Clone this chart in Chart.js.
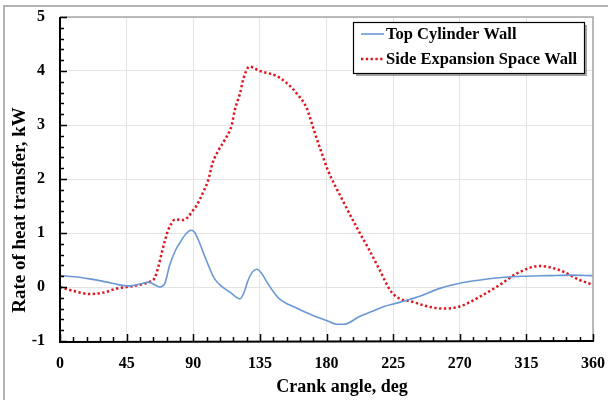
<!DOCTYPE html>
<html>
<head>
<meta charset="utf-8">
<script src="https://cdn.jsdelivr.net/npm/chart.js@4.4.1/dist/chart.umd.min.js"></script>
<style>
  html, body { margin: 0; padding: 0; background: #ffffff; }
  #wrap { width: 608px; height: 400px; position: relative; }
</style>
</head>
<body>
<div id="wrap"><canvas id="c" width="608" height="400"></canvas></div>
<script>
// ---- Data ----
const seriesNames = ["Top Cylinder Wall", "Side Expansion Space Wall"];

const topAngle = [0, 10, 20, 30, 40, 45, 50, 55, 60, 64, 67.5, 71, 74, 78, 81, 85, 88.5, 91, 94.5, 98, 101, 104, 108, 115, 121.5, 124, 127, 130, 133, 136, 140, 145, 149, 155, 162, 173, 180, 187, 192, 202, 210, 218, 230, 243, 256, 270, 284, 300, 315, 330, 345, 360];
const topValue = [0.21, 0.19, 0.15, 0.10, 0.04, 0.02, 0.03, 0.06, 0.09, 0.04, 0.0, 0.08, 0.40, 0.68, 0.82, 0.98, 1.05, 1.01, 0.80, 0.55, 0.35, 0.17, 0.04, -0.10, -0.22, -0.12, 0.12, 0.28, 0.33, 0.26, 0.08, -0.12, -0.24, -0.33, -0.42, -0.55, -0.62, -0.69, -0.69, -0.55, -0.46, -0.37, -0.28, -0.17, -0.03, 0.07, 0.13, 0.18, 0.20, 0.21, 0.22, 0.21];

const sideAngle = [0, 10, 20, 30, 38, 45, 52, 58, 61, 64, 66.4, 68.6, 71, 73, 75.4, 77.6, 83.3, 86.6, 89, 92.3, 96.8, 100, 103, 107, 111, 116, 118, 121.5, 124, 128, 135, 146, 153, 160, 166.5, 171, 175.5, 181, 191, 200.5, 209, 216, 223, 229.6, 236, 250, 258.6, 270, 283.6, 297, 308.6, 324, 337.6, 351, 360];
const sideValue = [0.0, -0.08, -0.13, -0.10, -0.03, 0.0, 0.03, 0.07, 0.10, 0.17, 0.37, 0.62, 0.87, 1.05, 1.18, 1.25, 1.24, 1.30, 1.39, 1.51, 1.76, 1.97, 2.29, 2.53, 2.71, 3.0, 3.27, 3.58, 3.87, 4.08, 4.0, 3.91, 3.78, 3.58, 3.32, 2.95, 2.58, 2.16, 1.6, 1.1, 0.68, 0.31, -0.06, -0.22, -0.26, -0.37, -0.40, -0.36, -0.18, 0.04, 0.25, 0.39, 0.31, 0.13, 0.04];

const xTicks = [0, 45, 90, 135, 180, 225, 270, 315, 360];
const yTicks = [-1, 0, 1, 2, 3, 4, 5];

const xTitle = "Crank angle, deg";
const yTitle = "Rate of heat transfer, kW";

const toPoints = (xs, ys) => xs.map((x, i) => ({ x: x, y: ys[i] }));

const blue = "#6a98d4";
const red = "#e0141c";
const serif = "'Liberation Serif', 'Times New Roman', serif";

// Frame, plot border, inward ticks, axis titles, legend
const decor = {
  id: "decor",
  beforeDraw(chart) {
    const ctx = chart.ctx;
    ctx.save();
    ctx.fillStyle = "#ffffff";
    ctx.fillRect(0, 0, chart.width, chart.height);
    ctx.strokeStyle = "#b4b4b4";
    ctx.lineWidth = 2;
    ctx.strokeRect(4, 6, 700, 500);
    ctx.restore();
  },
  afterDatasetsDraw(chart) {
    const ctx = chart.ctx;
    const a = chart.chartArea;
    const xs = chart.scales.x, ys = chart.scales.y;
    ctx.save();
    // top and right plot border
    ctx.strokeStyle = "#a6a6a6";
    ctx.lineWidth = 1.5;
    ctx.beginPath();
    ctx.moveTo(a.left, a.top); ctx.lineTo(a.right, a.top); ctx.lineTo(a.right, a.bottom);
    ctx.stroke();
    // axes
    ctx.strokeStyle = "#000000";
    ctx.lineWidth = 2;
    ctx.beginPath();
    ctx.moveTo(a.left, a.top); ctx.lineTo(a.left, a.bottom + 1); ctx.lineTo(a.right + 1, a.bottom);
    ctx.stroke();
    // inward ticks
    ctx.lineWidth = 1.5;
    ctx.beginPath();
    for (let v = 0; v <= 360; v += 9) {
      const px = Math.round(xs.getPixelForValue(v)) + 0.5;
      const len = (v % 45 === 0) ? 7 : 4;
      ctx.moveTo(px, a.bottom); ctx.lineTo(px, a.bottom - len);
    }
    for (let k = -5; k <= 25; k++) {
      const v = k / 5;
      const py = Math.round(ys.getPixelForValue(v)) + 0.5;
      const len = (k % 5 === 0) ? 7 : 4;
      ctx.moveTo(a.left, py); ctx.lineTo(a.left + len, py);
    }
    ctx.stroke();

    // axis titles
    ctx.fillStyle = "#000000";
    ctx.textAlign = "center";
    ctx.textBaseline = "middle";
    ctx.font = "bold 18px " + serif;
    ctx.fillText(xTitle, 342, 387);
    ctx.save();
    ctx.translate(20, 210);
    ctx.rotate(-Math.PI / 2);
    ctx.font = "bold 19px " + serif;
    ctx.fillText(yTitle, 0, 0);
    ctx.restore();

    // legend
    const bx = 353, by = 22, bw = 231, bh = 51;
    ctx.fillStyle = "rgba(0,0,0,0.35)";
    ctx.fillRect(bx + 3, by + 3, bw, bh);
    ctx.fillStyle = "#ffffff";
    ctx.fillRect(bx, by, bw, bh);
    ctx.strokeStyle = "#000000";
    ctx.lineWidth = 1.2;
    ctx.strokeRect(bx + 0.5, by + 0.5, bw, bh);
    const ds = chart.data.datasets;
    const rows = [34, 59];
    ds.forEach((d, i) => {
      ctx.strokeStyle = d.borderColor;
      ctx.lineWidth = d.borderWidth;
      ctx.setLineDash(d.borderDash || []);
      ctx.beginPath();
      ctx.moveTo(361, rows[i]); ctx.lineTo(384, rows[i]);
      ctx.stroke();
      ctx.setLineDash([]);
      ctx.fillStyle = "#000000";
      ctx.font = "bold 16.5px " + serif;
      ctx.textBaseline = "middle";
      ctx.textAlign = "left";
      ctx.fillText(d.label, 386, rows[i] + 1);
    });
    ctx.restore();
  }
};

new Chart(document.getElementById("c"), {
  type: "line",
  data: {
    datasets: [
      {
        label: seriesNames[0],
        data: toPoints(topAngle, topValue),
        borderColor: blue,
        borderWidth: 1.6,
        pointRadius: 0,
        cubicInterpolationMode: "monotone",
        fill: false
      },
      {
        label: seriesNames[1],
        data: toPoints(sideAngle, sideValue),
        borderColor: red,
        borderWidth: 2.5,
        borderDash: [2.3, 2.5],
        pointRadius: 0,
        cubicInterpolationMode: "monotone",
        fill: false
      }
    ]
  },
  options: {
    responsive: false,
    animation: false,
    layout: { padding: { left: 0, top: 17, right: 15, bottom: 0 } },
    plugins: { legend: { display: false }, tooltip: { enabled: false } },
    scales: {
      x: {
        type: "linear",
        min: 0, max: 360,
        afterBuildTicks(s) { s.ticks = xTicks.map(v => ({ value: v })); },
        afterFit(s) { s.height = 59; s.paddingLeft = 0; s.paddingRight = 0; },
        border: { display: false },
        grid: { color: "#e4e4e4", lineWidth: 1, drawTicks: false },
        ticks: { color: "#000", padding: 13, maxRotation: 0, font: { family: serif, size: 16, weight: "bold" } },
        title: { display: false }
      },
      y: {
        type: "linear",
        min: -1, max: 5,
        afterBuildTicks(s) { s.ticks = yTicks.map(v => ({ value: v })); },
        afterFit(s) { s.width = 60; s.paddingTop = 0; s.paddingBottom = 0; },
        border: { display: false },
        grid: { color: "#e4e4e4", lineWidth: 1, drawTicks: false },
        ticks: { color: "#000", padding: 15, font: { family: serif, size: 16, weight: "bold" } },
        title: { display: false }
      }
    }
  },
  plugins: [decor]
});
</script>
</body>
</html>
